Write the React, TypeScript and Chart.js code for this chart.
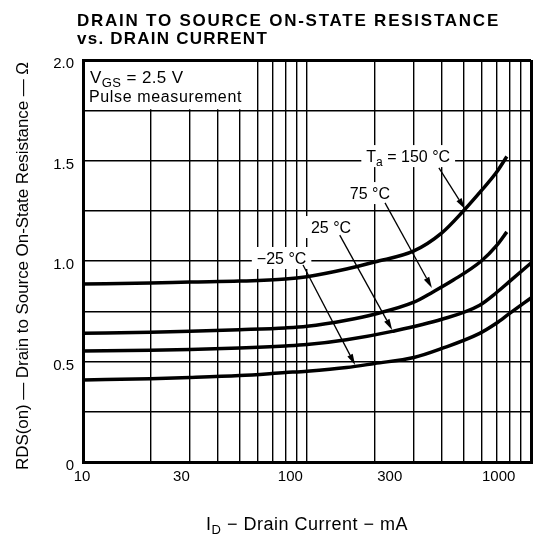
import { useEffect, useRef } from 'react';
import { Chart, registerables } from 'chart.js';
Chart.register(...registerables);

// ---- data ----
const currents150 = [10, 20, 30, 50, 80, 100, 150, 200, 300, 400, 500, 600, 700, 780];
const rds150 = [0.885, 0.89, 0.895, 0.9, 0.91, 0.922, 0.96, 0.995, 1.05, 1.14, 1.25, 1.35, 1.44, 1.52];
const currents75 = [10, 20, 30, 50, 80, 100, 150, 200, 300, 365, 450, 600, 700, 780];
const rds75 = [0.64, 0.645, 0.65, 0.658, 0.667, 0.675, 0.705, 0.735, 0.795, 0.846, 0.905, 1.0, 1.075, 1.145];
const currents25 = [10, 20, 30, 50, 80, 100, 150, 240, 400, 590, 700, 800, 1000];
const rds25 = [0.552, 0.556, 0.56, 0.567, 0.577, 0.584, 0.608, 0.65, 0.71, 0.78, 0.842, 0.897, 0.99];
const currentsM25 = [10, 20, 30, 50, 80, 100, 150, 200, 300, 400, 590, 700, 800, 1000];
const rdsM25 = [0.408, 0.414, 0.42, 0.43, 0.445, 0.452, 0.47, 0.49, 0.52, 0.565, 0.64, 0.69, 0.738, 0.816];

const xGridValues = [10, 20, 30, 40, 50, 60, 70, 80, 90, 100, 200, 300, 400, 500, 600, 700, 800, 900, 1000];
const xTickLabels = [10, 30, 100, 300, 1000];
const yTickLabels = [0, 0.5, 1.0, 1.5, 2.0];

const titleLine1 = 'DRAIN TO SOURCE ON-STATE RESISTANCE';
const titleLine2 = 'vs. DRAIN CURRENT';
const yAxisTitle = 'RDS(on) — Drain to Source On-State Resistance — Ω';

// ---- annotation layout (data units) ----
const FONT = '"Liberation Sans", Arial, Helvetica, sans-serif';
type Part = { t: string; size: number; dy?: number; bold?: boolean };

const curveLabels: { parts: Part[]; at: [number, number]; from: [number, number]; to: [number, number] }[] = [
  { parts: [{ t: 'T', size: 16 }, { t: 'a', size: 12, dy: 4 }, { t: ' = 150 °C', size: 16 }], at: [283, 1.522], from: [388, 1.463], to: [507, 1.259] },
  { parts: [{ t: '75 °C', size: 16 }], at: [191, 1.338], from: [223, 1.289], to: [361, 0.866] },
  { parts: [{ t: '25 °C', size: 16 }], at: [128, 1.169], from: [140, 1.129], to: [240, 0.657] },
  { parts: [{ t: '−25 °C', size: 16 }], at: [77, 1.015], from: [96, 0.98], to: [164, 0.483] },
];

function partsWidth(ctx: CanvasRenderingContext2D, parts: Part[], ls: number) {
  let w = 0;
  for (const p of parts) {
    ctx.font = `${p.bold ? 'bold ' : ''}${p.size}px ${FONT}`;
    (ctx as any).letterSpacing = '0px';
    w += ctx.measureText(p.t).width + p.t.length * ls;
  }
  return w;
}

function drawParts(ctx: CanvasRenderingContext2D, parts: Part[], x: number, y: number, align: 'left' | 'center', ls = 0) {
  const w = partsWidth(ctx, parts, ls);
  let cx = align === 'center' ? x - w / 2 : x;
  ctx.textAlign = 'left';
  ctx.textBaseline = 'alphabetic';
  for (const p of parts) {
    ctx.font = `${p.bold ? 'bold ' : ''}${p.size}px ${FONT}`;
    (ctx as any).letterSpacing = ls + 'px';
    ctx.fillText(p.t, cx, y + (p.dy || 0));
    (ctx as any).letterSpacing = '0px';
    cx += ctx.measureText(p.t).width + p.t.length * ls;
  }
  return w;
}

function fitSpacing(ctx: CanvasRenderingContext2D, parts: Part[], target: number) {
  const n = parts.reduce((s, p) => s + p.t.length, 0);
  return (target - partsWidth(ctx, parts, 0)) / n;
}

const overlay = {
  id: 'overlay',
  beforeDatasetsDraw(chart: any) {
    const { ctx, chartArea: a, scales } = chart;
    const x = scales.x, y = scales.y;
    ctx.save();
    ctx.fillStyle = '#fff';
    const bx = x.getPixelForValue(60);
    const by = y.getPixelForValue(1.75);
    ctx.fillRect(a.left + 2, a.top + 2, bx - a.left - 3, by - a.top - 3);
    for (const l of curveLabels) {
      const px = x.getPixelForValue(l.at[0]);
      const py = y.getPixelForValue(l.at[1]);
      const w = partsWidth(ctx, l.parts, 0);
      ctx.fillRect(px - w / 2 - 5, py - 11, w + 10, 22);
    }
    ctx.restore();
  },
  afterDatasetsDraw(chart: any) {
    const { ctx, chartArea: a, scales } = chart;
    const x = scales.x, y = scales.y;
    ctx.save();
    ctx.fillStyle = '#000';
    ctx.strokeStyle = '#000';
    // curve labels and arrows
    for (const l of curveLabels) {
      const px = x.getPixelForValue(l.at[0]);
      const py = y.getPixelForValue(l.at[1]);
      drawParts(ctx, l.parts, px, py + 6, 'center');
      const x0 = x.getPixelForValue(l.from[0]), y0 = y.getPixelForValue(l.from[1]);
      const x1 = x.getPixelForValue(l.to[0]), y1 = y.getPixelForValue(l.to[1]);
      const ang = Math.atan2(y1 - y0, x1 - x0);
      const hl = 11, hw = 3;
      const bxp = x1 - hl * Math.cos(ang), byp = y1 - hl * Math.sin(ang);
      ctx.lineWidth = 1.3;
      ctx.beginPath();
      ctx.moveTo(x0, y0);
      ctx.lineTo(bxp, byp);
      ctx.stroke();
      ctx.beginPath();
      ctx.moveTo(x1, y1);
      ctx.lineTo(bxp + hw * Math.sin(ang), byp - hw * Math.cos(ang));
      ctx.lineTo(bxp - hw * Math.sin(ang), byp + hw * Math.cos(ang));
      ctx.closePath();
      ctx.fill();
    }
    // condition box text
    const boxL: Part[] = [{ t: 'V', size: 17 }, { t: 'GS', size: 13, dy: 4 }, { t: ' = 2.5 V', size: 17 }];
    drawParts(ctx, boxL, a.left + 7, a.top + 23, 'left', 0.4);
    const boxL2: Part[] = [{ t: 'Pulse measurement', size: 16 }];
    drawParts(ctx, boxL2, a.left + 6, a.top + 42, 'left', fitSpacing(ctx, boxL2, 153));
    ctx.restore();
  },
  afterDraw(chart: any) {
    const { ctx, chartArea: a, scales } = chart;
    const x = scales.x, y = scales.y;
    ctx.save();
    ctx.fillStyle = '#000';
    // title
    const t1: Part[] = [{ t: titleLine1, size: 17, bold: true }];
    drawParts(ctx, t1, 77, 26, 'left', fitSpacing(ctx, t1, 423));
    const t2: Part[] = [{ t: titleLine2, size: 17, bold: true }];
    drawParts(ctx, t2, 77, 44, 'left', fitSpacing(ctx, t2, 191));
    // y ticks
    ctx.font = `15px ${FONT}`;
    ctx.textAlign = 'right';
    ctx.textBaseline = 'middle';
    for (const v of yTickLabels) {
      ctx.fillText(v === 0 ? '0' : v.toFixed(1), a.left - 9, y.getPixelForValue(v) + 4);
    }
    // x ticks
    ctx.textAlign = 'center';
    ctx.textBaseline = 'alphabetic';
    for (const v of xTickLabels) {
      const px = x.getPixelForValue(v);
      ctx.fillText(String(v), px - 0.07 * (px - a.left) - 1, a.bottom + 19);
    }
    // x title
    const xt: Part[] = [{ t: 'I', size: 18 }, { t: 'D', size: 13, dy: 4 }, { t: ' − Drain Current − mA', size: 18 }];
    drawParts(ctx, xt, 206, 530, 'left', fitSpacing(ctx, xt, 202));
    // y title
    ctx.translate(22, 266);
    ctx.rotate(-Math.PI / 2);
    const yt: Part[] = [{ t: yAxisTitle, size: 17 }];
    drawParts(ctx, yt, 0, 6, 'center', fitSpacing(ctx, yt, 408));
    ctx.restore();
  },
};

export default function App() {
  const ref = useRef<HTMLCanvasElement | null>(null);
  useEffect(() => {
    if (!ref.current) return;
    const mk = (xs: number[], ys: number[], label: string) => ({
      label,
      data: xs.map((v, i) => ({ x: v, y: ys[i] })),
      borderColor: '#000',
      borderWidth: 3.5,
      pointRadius: 0,
      fill: false,
      cubicInterpolationMode: 'monotone' as const,
    });
    const chart = new Chart(ref.current, {
      type: 'line',
      data: {
        datasets: [
          mk(currents150, rds150, '150 °C'),
          mk(currents75, rds75, '75 °C'),
          mk(currents25, rds25, '25 °C'),
          mk(currentsM25, rdsM25, '−25 °C'),
        ],
      },
      options: {
        animation: false,
        responsive: false,
        layout: { padding: { left: 83, top: 60, right: 21, bottom: 85 } },
        plugins: { legend: { display: false }, tooltip: { enabled: false }, title: { display: false } },
        scales: {
          x: {
            type: 'logarithmic',
            min: 10,
            max: 1000,
            afterBuildTicks: (s: any) => {
              s.ticks = xGridValues.map((v) => ({ value: v }));
            },
            ticks: { display: false },
            grid: {
              color: '#000',
              drawTicks: false,
              lineWidth: (c: any) => (c.tick && (c.tick.value === 1000 || c.tick.value === 10) ? 3 : 1.4),
            },
            border: { display: true, color: '#000', width: 3 },
          },
          y: {
            type: 'linear',
            min: 0,
            max: 2,
            ticks: { display: false, stepSize: 0.25 },
            grid: {
              color: '#000',
              drawTicks: false,
              lineWidth: (c: any) => (c.tick && (c.tick.value === 2 || c.tick.value === 0) ? 3 : 1.4),
            },
            border: { display: true, color: '#000', width: 3 },
          },
        },
      },
      plugins: [overlay],
    });
    return () => chart.destroy();
  }, []);
  return (
    <div style={{ position: 'fixed', left: 0, top: 0, width: 552, height: 547, background: '#fff' }}>
      <canvas ref={ref} width={552} height={547} style={{ display: 'block' }} />
    </div>
  );
}
